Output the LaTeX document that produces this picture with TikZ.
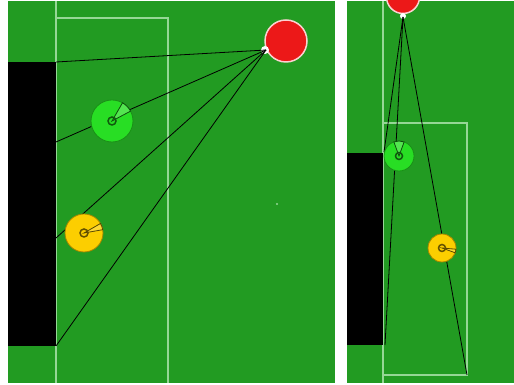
\documentclass[tikz,border=0pt]{standalone}
\usepackage{xcolor}
\usepackage{tikz}
\usetikzlibrary{calc}

\definecolor{field}{RGB}{34,155,34}
\definecolor{fline}{RGB}{150,215,150}
\definecolor{robgreen}{RGB}{40,222,36}
\definecolor{robyellow}{RGB}{252,206,0}
\definecolor{ballred}{RGB}{236,24,24}

\begin{document}
\begin{tikzpicture}[x=1pt,y=1pt,
  mark line/.style={draw=fline,line width=1.6pt},
  view/.style={draw=black,line width=0.8pt},
  robot/.style={circle,fill=#1,draw=#1!65!black,line width=0.8pt,inner sep=0pt,outer sep=0pt},
  wedge/.style={fill=#1!80!white,draw=#1!35!black,line width=0.8pt},
  ring/.style={draw=#1!40!black,line width=1.5pt}]
  \useasboundingbox[fill=white] (0,0) rectangle (514,385);

  % left view
  \fill[field] (8,2) rectangle (335,384);
  \draw[mark line] (56,2) -- (56,384);
  \draw[mark line] (56,367) -- (168,367) -- (168,2);
  \fill[black] (8,39) rectangle (56,323);
  \fill[fline] (277,181) circle (1.2);
  \coordinate (gtL) at (56,323);
  \coordinate (gaL) at (56,243);
  \coordinate (gbL) at (56,147);
  \coordinate (gdL) at (56,39);
  \node[circle,fill=ballred,draw=white!80!ballred,line width=1.5pt,minimum size=42pt,inner sep=0pt] (ballL) at (286,344) {};
  \fill[white] (265,335) circle (4);
  \coordinate (apexL) at (266,335);
  \draw[view] (apexL) -- (gtL);
  \draw[view] (apexL) -- (gaL);
  \draw[view] (apexL) -- (gbL);
  \draw[view] (apexL) -- (gdL);
  \node[robot=robgreen,minimum size=42pt] (grnL) at (112,264) {};
  \draw[wedge=robgreen] (grnL.center) -- ++(28:21) arc (28:60:21) -- cycle;
  \draw[ring=robgreen] (grnL.center) circle (4);
  \node[robot=robyellow,minimum size=38pt] (ylwL) at (84,152) {};
  \draw[wedge=robyellow] (ylwL.center) -- ++(10:19) arc (10:30:19) -- cycle;
  \draw[ring=robyellow] (ylwL.center) circle (4);

  % right view
  \fill[field] (347,2) rectangle (514,384);
  \draw[mark line] (383,2) -- (383,384);
  \draw[mark line] (383,10) rectangle (467,262);
  \fill[black] (347,40) rectangle (383,232);
  \begin{scope}
    \clip (347,2) rectangle (514,384);
    \fill[ballred,draw=white!80!ballred,line width=1.5pt] (403,388) circle (16.5);
  \end{scope}
  \fill[white] (403,369) circle (3);
  \coordinate (apexR) at (403,368);
  \coordinate (gtR) at (384,233);
  \coordinate (gdR) at (385,40);
  \coordinate (bxR) at (467,10);
  \draw[view] (apexR) -- (gtR);
  \draw[view] (apexR) -- (gdR);
  \draw[view] (apexR) -- (bxR);
  \node[robot=robgreen,minimum size=30pt] (grnR) at (399,229) {};
  \draw[wedge=robgreen] (grnR.center) -- ++(70:15) arc (70:110:15) -- cycle;
  \draw[ring=robgreen] (grnR.center) circle (3.5);
  \node[robot=robyellow,minimum size=28pt] (ylwR) at (442,137) {};
  \draw[wedge=robyellow] (ylwR.center) -- ++(-20:14) arc (-20:-5:14) -- cycle;
  \draw[ring=robyellow] (ylwR.center) circle (3.5);
\end{tikzpicture}
\end{document}
